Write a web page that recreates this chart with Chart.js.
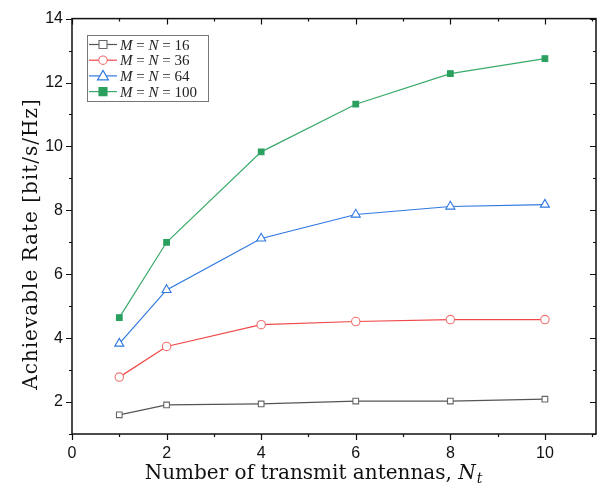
<!DOCTYPE html>
<html>
<head>
<meta charset="utf-8">
<script src="https://cdn.jsdelivr.net/npm/chart.js@4/dist/chart.umd.min.js"></script>
<style>
  html, body { margin: 0; padding: 0; background: #fff; }
  #wrap { width: 606px; height: 491px; }
</style>
</head>
<body>
<div id="wrap"><canvas id="rateChart" width="606" height="491"></canvas></div>
<script>
'use strict'

// number of transmit antennas
const antennas = [1, 2, 4, 6, 8, 10];

// achievable rate per M = N setting
const rate16  = [1.60, 1.91, 1.94, 2.03, 2.03, 2.09];
const rate36  = [2.78, 3.74, 4.42, 4.52, 4.58, 4.58];
const rate64  = [3.83, 5.51, 7.12, 7.87, 8.12, 8.18];
const rate100 = [4.64, 7.00, 9.83, 11.32, 12.28, 12.75];

const seriesNames = ['16', '36', '64', '100'];

function toPoints(vals){
  return antennas.map(function(a, i){ return {x: a, y: vals[i]}; });
}

const styles = [
  {line: '#555555', point: '#666666', fill: '#ffffff', shape: 'rect', r: 4},
  {line: '#f04848', point: '#f07070', fill: '#ffffff', shape: 'circle', r: 4.2},
  {line: '#2f78e0', point: '#2f78e0', fill: '#ffffff', shape: 'triangle', r: 5.2},
  {line: '#3aaa6a', point: '#2aa05e', fill: '#2aa05e', shape: 'rect', r: 4}
];
const allRates = [rate16, rate36, rate64, rate100];

const datasets = allRates.map(function(vals, i){
  const s = styles[i];
  return {
    label: 'M = N = ' + seriesNames[i],
    data: toPoints(vals),
    borderColor: s.line,
    borderWidth: 1.2,
    pointStyle: s.shape,
    pointRadius: s.r,
    pointBorderColor: s.point,
    pointBackgroundColor: s.fill,
    pointBorderWidth: 1.1,
    fill: false,
    tension: 0
  };
});

const serif = '"Liberation Serif", "DejaVu Serif", serif';
const titleSerif = '"DejaVu Serif", serif';

// draws frame, ticks on all four sides, axis titles and the legend box
const decorPlugin = {
  id: 'decor',
  afterDraw: function(chart){
    const ctx = chart.ctx;
    const a = chart.chartArea;
    const xs = chart.scales.x;
    const ys = chart.scales.y;
    ctx.save();
    ctx.strokeStyle = '#111';
    ctx.lineWidth = 1.5;
    ctx.strokeRect(a.left, a.top, a.right - a.left, a.bottom - a.top);

    ctx.lineWidth = 1.2;
    ctx.beginPath();
    for (let v = 0; v <= 11; v++){
      const px = Math.round(xs.getPixelForValue(v)) + 0.5;
      const len = (v % 2 === 0) ? 6 : 3;
      ctx.moveTo(px, a.bottom); ctx.lineTo(px, a.bottom + len);
      ctx.moveTo(px, a.top); ctx.lineTo(px, a.top + len);
    }
    for (let v = 1; v <= 14; v++){
      const py = Math.round(ys.getPixelForValue(v)) + 0.5;
      const len = (v % 2 === 0) ? 6 : 3;
      ctx.moveTo(a.left, py); ctx.lineTo(a.left - len, py);
      ctx.moveTo(a.right, py); ctx.lineTo(a.right - len, py);
    }
    ctx.stroke();

    // x title
    ctx.fillStyle = '#111';
    ctx.textBaseline = 'alphabetic';
    ctx.font = '20px ' + titleSerif;
    const t1 = 'Number of transmit antennas, ';
    const w1 = ctx.measureText(t1).width;
    ctx.font = 'italic 20px ' + titleSerif;
    const wN = ctx.measureText('N').width;
    ctx.font = 'italic 14px ' + titleSerif;
    const wt = ctx.measureText('t').width;
    const total = w1 + wN + wt;
    let sx = 313 - total / 2;
    const by = 479;
    ctx.font = '20px ' + titleSerif;
    ctx.fillText(t1, sx, by);
    ctx.font = 'italic 20px ' + titleSerif;
    ctx.fillText('N', sx + w1, by);
    ctx.font = 'italic 14px ' + titleSerif;
    ctx.fillText('t', sx + w1 + wN + 1, by + 4);

    // y title
    ctx.save();
    ctx.translate(37, 244);
    ctx.rotate(-Math.PI / 2);
    ctx.font = '20px ' + titleSerif;
    ctx.letterSpacing = '1px';
    ctx.textAlign = 'center';
    ctx.fillText('Achievable Rate [bit/s/Hz]', 0, 0);
    ctx.restore();

    // legend
    const lx = 87, ly = 35, lw = 121, lh = 66;
    ctx.lineWidth = 1;
    ctx.strokeStyle = '#777';
    ctx.fillStyle = '#fff';
    ctx.fillRect(lx, ly, lw, lh);
    ctx.strokeRect(lx + 0.5, ly + 0.5, lw, lh);
    for (let i = 0; i < 4; i++){
      const s = styles[i];
      const ry = ly + 9.5 + i * 15.7;
      ctx.strokeStyle = s.line;
      ctx.lineWidth = 1.2;
      ctx.beginPath();
      ctx.moveTo(lx + 2, ry); ctx.lineTo(lx + 30, ry);
      ctx.stroke();
      ctx.fillStyle = s.fill;
      ctx.strokeStyle = s.point;
      ctx.lineWidth = 1.1;
      const cx = lx + 16;
      ctx.beginPath();
      if (s.shape === 'rect'){
        ctx.rect(cx - 4, ry - 4, 8, 8);
      } else if (s.shape === 'circle'){
        ctx.arc(cx, ry, 4.2, 0, Math.PI * 2);
      } else {
        ctx.moveTo(cx, ry - 5.5); ctx.lineTo(cx + 5.5, ry + 4); ctx.lineTo(cx - 5.5, ry + 4); ctx.closePath();
      }
      ctx.fill(); ctx.stroke();

      ctx.fillStyle = '#222';
      let tx = lx + 33;
      const ty = ry + 5;
      ctx.font = 'italic 15px ' + serif;
      ctx.fillText('M', tx, ty); tx += ctx.measureText('M').width;
      ctx.font = '15px ' + serif;
      ctx.fillText(' = ', tx, ty); tx += ctx.measureText(' = ').width;
      ctx.font = 'italic 15px ' + serif;
      ctx.fillText('N', tx, ty); tx += ctx.measureText('N').width;
      ctx.font = '15px ' + serif;
      ctx.fillText(' = ' + seriesNames[i], tx, ty);
    }
    ctx.restore();
  }
};

const ctx = document.getElementById('rateChart').getContext('2d');
const rateChart = new Chart(ctx, {
  type: 'line',
  data: { datasets: datasets },
  options: {
    responsive: false,
    animation: false,
    layout: { padding: { top: 14, right: 10, left: 0, bottom: 0 } },
    plugins: { legend: { display: false }, tooltip: { enabled: false } },
    scales: {
      x: {
        type: 'linear', min: 0, max: 11.08,
        grid: { display: false, drawTicks: false },
        border: { display: false },
        ticks: {
          stepSize: 1, autoSkip: false, maxRotation: 0, padding: 10,
          color: '#111', font: { family: '"Liberation Sans", Arial, sans-serif', size: 16 },
          callback: function(v){ return (v % 2 === 0 && v <= 10) ? String(v) : ''; }
        },
        afterFit: function(scale){ scale.height = 57; }
      },
      y: {
        type: 'linear', min: 1, max: 14,
        grid: { display: false, drawTicks: false },
        border: { display: false },
        ticks: {
          stepSize: 1, autoSkip: false, padding: 9,
          color: '#111', font: { family: '"Liberation Sans", Arial, sans-serif', size: 16 },
          callback: function(v){ return (v % 2 === 0) ? String(v) : ''; }
        },
        afterFit: function(scale){ scale.width = 72; }
      }
    }
  },
  plugins: [decorPlugin]
});
</script>
</body>
</html>
